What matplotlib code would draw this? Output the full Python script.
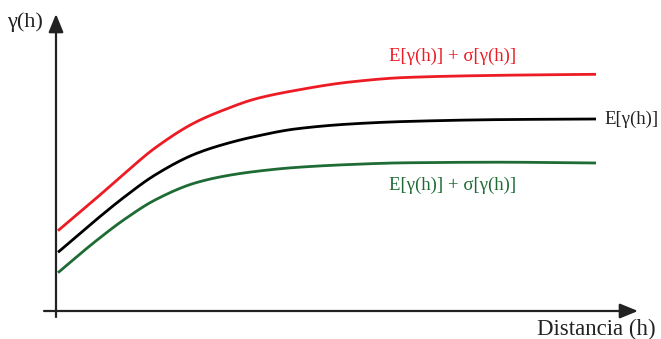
import matplotlib
matplotlib.use("Agg")
import matplotlib.pyplot as plt
import numpy as np

# Distance (h) and variogram curves
h = [0.02, 0.39, 0.69, 0.99, 1.39, 1.69, 1.99, 2.39, 2.94, 3.49, 4.44, 5.40]
upper = [0.803, 1.117, 1.38, 1.63, 1.885, 2.015, 2.12, 2.205, 2.29, 2.335, 2.357, 2.367]
mean = [0.587, 0.903, 1.145, 1.36, 1.57, 1.67, 1.745, 1.82, 1.87, 1.895, 1.914, 1.92]
lower = [0.383, 0.693, 0.92, 1.11, 1.28, 1.35, 1.395, 1.435, 1.465, 1.482, 1.488, 1.48]

label_upper = "E[γ(h)] + σ[γ(h)]"
label_mean = "E[γ(h)]"
label_lower = "E[γ(h)] + σ[γ(h)]"
xlabel = "Distancia (h)"
ylabel = "γ(h)"


def pchip(x, y, n=400):
    """Shape-preserving cubic through the given points, for a smooth line."""
    x = np.asarray(x, float)
    y = np.asarray(y, float)
    dx = np.diff(x)
    d = np.diff(y) / dx
    m = np.zeros_like(y)
    for k in range(1, len(x) - 1):
        if d[k - 1] * d[k] > 0:
            w1 = 2 * dx[k] + dx[k - 1]
            w2 = dx[k] + 2 * dx[k - 1]
            m[k] = (w1 + w2) / (w1 / d[k - 1] + w2 / d[k])
    m[0] = d[0]
    m[-1] = d[-1]
    xs = np.linspace(x[0], x[-1], n)
    idx = np.clip(np.searchsorted(x, xs) - 1, 0, len(x) - 2)
    t = (xs - x[idx]) / dx[idx]
    h00 = 2 * t**3 - 3 * t**2 + 1
    h10 = t**3 - 2 * t**2 + t
    h01 = -2 * t**3 + 3 * t**2
    h11 = t**3 - t**2
    ys = (h00 * y[idx] + h10 * dx[idx] * m[idx]
          + h01 * y[idx + 1] + h11 * dx[idx] * m[idx + 1])
    return xs, ys


W, H = 661, 339
fig = plt.figure(figsize=(W / 100, H / 100), dpi=100)
ax = fig.add_axes([0, 0, 1, 1])
ax.set_xlim(-0.56, 6.05)
ax.set_ylim(-0.28, 3.11)
ax.axis("off")

axis_col = "#222222"
# axes drawn as arrows
arrow = dict(arrowstyle="-|>,head_length=1.1,head_width=0.45",
             color=axis_col, lw=1.6, shrinkA=0, shrinkB=0)
ax.annotate("", xy=(0, 2.97), xytext=(0, -0.06), arrowprops=arrow)
ax.annotate("", xy=(5.82, 0), xytext=(-0.12, 0), arrowprops=arrow)

for ys, col in ((upper, "#ED1C24"), (mean, "#000000"), (lower, "#1F6B35")):
    sx, sy = pchip(h, ys)
    ax.plot(sx, sy, color=col, lw=2.0, solid_capstyle="butt")


def put(px, py, s, color, size):
    fig.text(px / W, 1 - py / H, s, color=color, ha="left", va="center",
             family="Liberation Serif", fontsize=size)


put(7, 22, ylabel, "#222222", 16)
put(389, 56, label_upper, "#ED1C24", 13.5)
put(604, 119, label_mean, "#222222", 13.5)
put(389, 185, label_lower, "#1F6B35", 13.5)
put(537, 329, xlabel, "#222222", 16.5)

fig.savefig("out.png", dpi=100, facecolor="white")
